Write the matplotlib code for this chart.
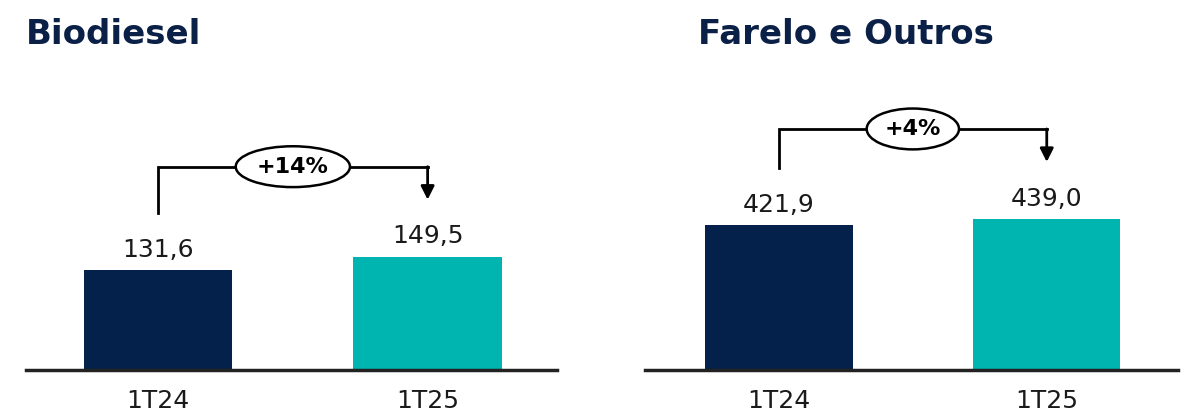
import matplotlib
matplotlib.use("Agg")
import matplotlib.pyplot as plt

# data
periods = ["1T24", "1T25"]
biodiesel = [131.6, 149.5]
farelo = [421.9, 439.0]
titles = ["Biodiesel", "Farelo e Outros"]
growth_labels = ["+14%", "+4%"]

NAVY = "#03214a"
TEAL = "#00b5b0"
TITLE_COLOR = "#0b2046"

fig = plt.figure(figsize=(12, 4.18), dpi=100)
W, H = 1200.0, 418.0

# axes placement in pixels: (left, bottom-from-top, width, height)
panels = [
    dict(vals=biodiesel, rect=(26, 370, 531, 310), ylim=409, xlim=(-0.49, 1.48),
         title_x=26),
    dict(vals=farelo, rect=(645, 370, 533, 310), ylim=901, xlim=(-0.50, 1.49),
         title_x=698),
]

def fmt(v):
    return "{:.1f}".format(v).replace(".", ",")

for p, title, glabel in zip(panels, titles, growth_labels):
    l, b, w, h = p["rect"]
    ax = fig.add_axes([l / W, 1 - b / H, w / W, h / H])
    vals = p["vals"]
    ax.bar([0, 1], vals, width=0.55, color=[NAVY, TEAL], zorder=2)
    ax.set_xlim(*p["xlim"])
    ax.set_ylim(0, p["ylim"])
    ax.set_xticks([0, 1])
    ax.set_xticklabels(periods, fontsize=18, color="#1a1a1a")
    ax.tick_params(axis="x", length=0, pad=14)
    ax.set_yticks([])
    for s in ["top", "left", "right"]:
        ax.spines[s].set_visible(False)
    ax.spines["bottom"].set_linewidth(2.5)
    ax.spines["bottom"].set_color("#222222")
    ax.spines["bottom"].set_zorder(3)

    for i, v in enumerate(vals):
        ax.annotate(fmt(v), (i, v), xytext=(0, 6), textcoords="offset points",
                    ha="center", va="bottom", fontsize=18, color="#1a1a1a")

    # bracket with growth label
    k = p["ylim"] / h  # data units per pixel
    start = vals[0] + 57 * k
    top = max(vals) + 90 * k
    tip = vals[1] + 57 * k
    ax.plot([0, 0, 1], [start, top, top], color="black", lw=2,
            solid_joinstyle="miter", clip_on=False)
    ax.annotate("", xy=(1, tip), xytext=(1, top),
                arrowprops=dict(arrowstyle="-|>,head_length=0.8,head_width=0.4",
                                color="black", lw=2, shrinkA=0, shrinkB=0),
                annotation_clip=False)
    ax.text(0.5, top, glabel, ha="center", va="center", fontsize=16,
            fontweight="bold", color="black",
            bbox=dict(boxstyle="ellipse,pad=0.2", fc="white", ec="black", lw=1.8))

    fig.text(p["title_x"] / W, 1 - 35 / H, title, fontsize=24.5, fontweight="bold",
             family="DejaVu Sans", color=TITLE_COLOR, ha="left", va="center")

fig.savefig("out.png", dpi=100)
